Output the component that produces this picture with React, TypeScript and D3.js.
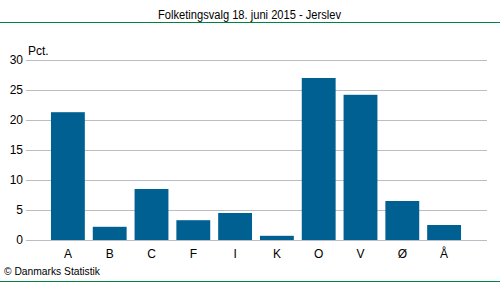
import React from "react";
import * as d3 from "d3";

const categories = ["A", "B", "C", "F", "I", "K", "O", "V", "Ø", "Å"];
const values = [21.3, 2.2, 8.5, 3.3, 4.5, 0.7, 27.0, 24.2, 6.5, 2.5];
const yTicks = [0, 5, 10, 15, 20, 25, 30];
const title = "Folketingsvalg 18. juni 2015 - Jerslev";

export default function App() {
  const W = 500, H = 282;
  const x = d3.scaleBand<string>().domain(categories).range([47, 465]).paddingInner(0.19).paddingOuter(0.095);
  const y = d3.scaleLinear().domain([0, 30]).range([240, 60]);
  const font = "Liberation Sans, Arial, sans-serif";
  return (
    <svg width={W} height={H} style={{ position: "absolute", left: 0, top: 0, display: "block" }}>
      <rect width={W} height={H} fill="#fff" />
      <text x={249.5} y={19} textAnchor="middle" fontFamily={font} fontSize={12} textLength={183} lengthAdjust="spacingAndGlyphs" fill="#000">{title}</text>
      <line x1={0} x2={W} y1={22.5} y2={22.5} stroke="#00843d" strokeWidth={1} />
      {yTicks.map(t => (
        <g key={t}>
          <line x1={26} x2={487} y1={y(t) + 0.5} y2={y(t) + 0.5} stroke="#bcbcc4" strokeWidth={1} />
          <text x={23} y={y(t) + 4} textAnchor="end" fontFamily={font} fontSize={12} fill="#000">{t}</text>
        </g>
      ))}
      <text x={28} y={55} fontFamily={font} fontSize={12} fill="#000">Pct.</text>
      {categories.map((c, i) => (
        <rect key={c} x={x(c)} y={y(values[i])} width={x.bandwidth()} height={y(0) - y(values[i])} fill="#006092" />
      ))}
      {categories.map(c => (
        <text key={c} x={(x(c) as number) + x.bandwidth() / 2} y={258} textAnchor="middle" fontFamily={font} fontSize={12} fill="#000">{c}</text>
      ))}
      <text x={4} y={275} fontFamily={font} fontSize={11} textLength={96} lengthAdjust="spacingAndGlyphs" fill="#000">© Danmarks Statistik</text>
      <line x1={0} x2={W} y1={281.5} y2={281.5} stroke="#00843d" strokeWidth={1} />
    </svg>
  );
}
